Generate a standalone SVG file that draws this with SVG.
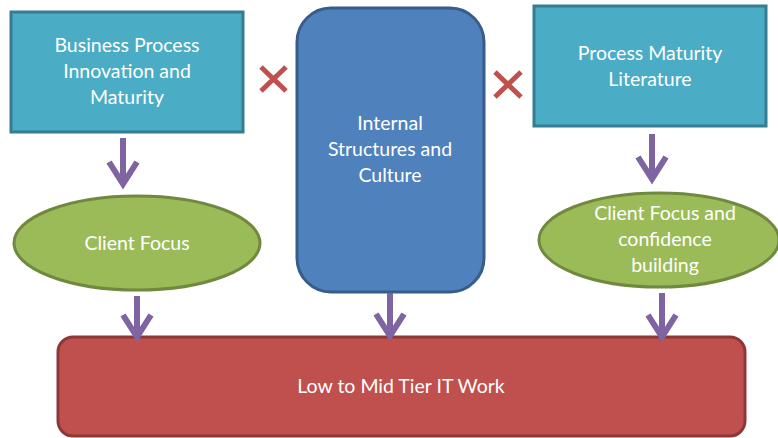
<svg xmlns="http://www.w3.org/2000/svg" width="778" height="438" viewBox="0 0 778 438">
<style>
.t{font-family:Lato,"Open Sans","Liberation Sans",sans-serif;font-size:19.5px;fill:#fff;text-anchor:middle}
.box{fill:#4bacc6;stroke:#357d91;stroke-width:3}
.ell{fill:#9bbb59;stroke:#71893f;stroke-width:3}
.arr{fill:none;stroke:#8064a2;stroke-width:6;stroke-linejoin:miter}
.x{stroke:#c0504d;stroke-width:5}
</style>
<rect width="778" height="438" fill="#fff"/>
<g id="bpim"><rect class="box" x="11" y="12" width="232" height="120"/><text class="t" x="127" y="52">Business Process</text><text class="t" x="127" y="78">Innovation and</text><text class="t" x="127" y="104">Maturity</text></g>
<g id="pml"><rect class="box" x="534" y="6" width="232" height="120"/><text class="t" x="650" y="60">Process Maturity</text><text class="t" x="650" y="86">Literature</text></g>
<g id="isc"><rect x="297" y="8" width="187" height="284" rx="34" fill="#4f81bd" stroke="#385d8a" stroke-width="3"/><text class="t" x="390" y="130">Internal</text><text class="t" x="390" y="156">Structures and</text><text class="t" x="390" y="182">Culture</text></g>
<g id="cf1"><ellipse class="ell" cx="137" cy="243" rx="123" ry="47"/><text class="t" x="137" y="250">Client Focus</text></g>
<g id="cf2"><ellipse class="ell" cx="659" cy="240" rx="120" ry="47"/><text class="t" x="665" y="220">Client Focus and</text><text class="t" x="665" y="246">confidence</text><text class="t" x="665" y="272">building</text></g>
<g id="low"><rect x="58" y="337" width="687" height="99" rx="15" fill="#c0504d" stroke="#8c3836" stroke-width="3"/><text class="t" x="401" y="393">Low to Mid Tier IT Work</text></g>
<g id="connectors">
<path class="arr" d="M123 138V184M109 162L123 184L137 162"/>
<path class="arr" d="M137 296V337M123 315L137 337L151 315"/>
<path class="arr" d="M390 293V336M376 314L390 336L404 314"/>
<path class="arr" d="M652 134V179M638 157L652 179L666 157"/>
<path class="arr" d="M662 293V337M648 315L662 337L676 315"/>
<path class="x" d="M261 67L286 91M286 67L261 91"/>
<path class="x" d="M495 72L521 97M521 72L495 97"/>
</g>
</svg>
